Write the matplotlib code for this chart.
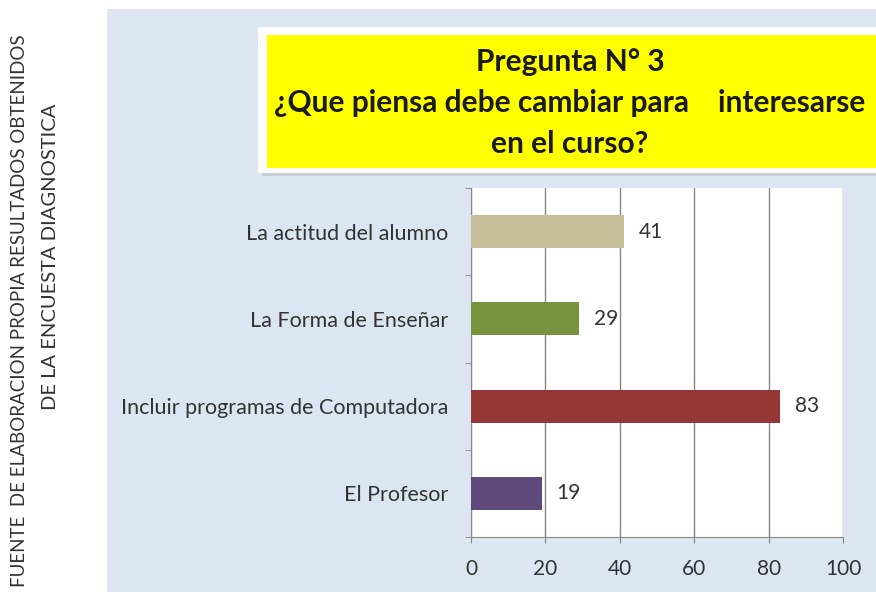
import matplotlib.pyplot as plt
from matplotlib.patches import Rectangle

# data (top to bottom in the picture)
categories = ["La actitud del alumno", "La Forma de Enseñar",
              "Incluir programas de Computadora", "El Profesor"]
values = [41, 29, 83, 19]
colors = ["#c4bd97", "#77933c", "#953735", "#604a7b"]
xticks = [0, 20, 40, 60, 80, 100]

title_lines = "Pregunta N° 3\n¿Que piensa debe cambiar para    interesarse\nen el curso?"
side_line1 = "FUENTE  DE ELABORACION PROPIA RESULTADOS OBTENIDOS"
side_line2 = "DE LA ENCUESTA DIAGNOSTICA"

plt.rcParams['font.family'] = ['Lato', 'DejaVu Sans']

W, H = 876, 592
fig = plt.figure(figsize=(W / 100, H / 100), dpi=100)
fig.patch.set_facecolor("white")

# light blue panel
fig.patches.append(Rectangle((107 / W, 0), 1 - 107 / W, 1 - 9 / H,
                             transform=fig.transFigure, facecolor="#dce6f2",
                             edgecolor="none", zorder=0))

# yellow title box with white border + soft shadow
fig.patches.append(Rectangle((262 / W, 1 - 176 / H), 1, 146 / H,
                             transform=fig.transFigure, facecolor="#c9ced6",
                             edgecolor="none", zorder=1))
fig.patches.append(Rectangle((258 / W, 1 - 173 / H), 1, 146 / H,
                             transform=fig.transFigure, facecolor="white",
                             edgecolor="none", zorder=1))
fig.patches.append(Rectangle((267 / W, 1 - 168 / H), 1, 133 / H,
                             transform=fig.transFigure, facecolor="#ffff00",
                             edgecolor="none", zorder=2))
fig.text(570 / W, 1 - 103 / H, title_lines, ha="center", va="center",
         fontsize=21.5, fontweight="bold", color="#1a1a1a", linespacing=1.56,
         zorder=3)

# side caption
fig.text(20 / W, 1 - 311 / H, side_line1, rotation=90, ha="center",
         va="center", fontsize=13.5, color="#333333")
fig.text(51 / W, 1 - 257 / H, side_line2, rotation=90, ha="center",
         va="center", fontsize=14.5, color="#333333")

# plot area
left, right, top, bottom = 471, 843, 188, 537
ax = fig.add_axes([left / W, 1 - bottom / H, (right - left) / W, (bottom - top) / H])
ax.set_zorder(5)
ax.set_facecolor("white")

ypos = list(range(len(categories)))[::-1]
ax.barh(ypos, values, height=0.38, color=colors, zorder=3)
for y, v in zip(ypos, values):
    ax.text(v + 4, y, str(v), va="center", ha="left", fontsize=15,
            color="#333333", zorder=4)

ax.set_xlim(0, 100)
ax.set_ylim(-0.5, len(categories) - 0.5)
ax.set_xticks(xticks)
ax.set_xticklabels([str(t) for t in xticks], fontsize=15, color="#333333")
ax.set_yticks(ypos)
ax.set_yticklabels(categories, fontsize=15.5, color="#333333")
ax.set_yticks([i - 0.5 for i in range(len(categories) + 1)], minor=True)

ax.tick_params(axis="y", which="major", length=0, pad=16.5)
ax.tick_params(axis="y", which="minor", length=4, color="#868686")
ax.tick_params(axis="x", length=4, color="#868686", pad=12)

ax.grid(axis="x", color="#868686", linewidth=1, zorder=0)
for s in ["top", "right"]:
    ax.spines[s].set_visible(False)
ax.spines["left"].set_color("#868686")
ax.spines["bottom"].set_color("#868686")

fig.savefig("out.png", dpi=100)
